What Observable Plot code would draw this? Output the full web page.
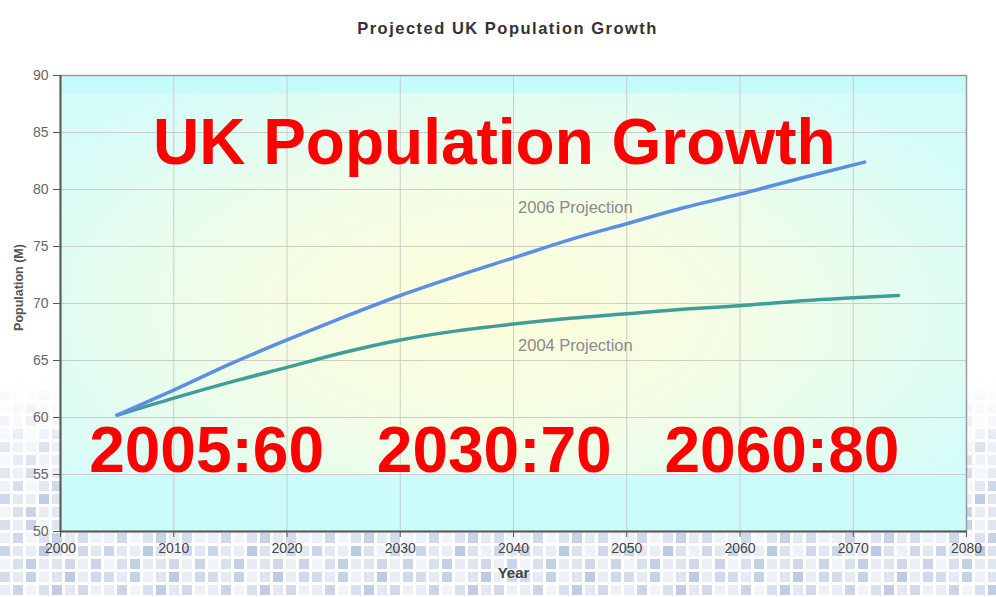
<!DOCTYPE html>
<html><head><meta charset="utf-8">
<script src="https://cdn.jsdelivr.net/npm/d3@7"></script>
<script src="https://cdn.jsdelivr.net/npm/@observablehq/plot@0.6"></script>
<style>body{margin:0;background:#fff;} #chart svg{display:block;}</style>
</head><body><div id="chart"></div>
<script>
const title = "Projected UK Population Growth";
const xLabel = "Year";
const yLabel = "Population (M)";
const xTicks = [2000, 2010, 2020, 2030, 2040, 2050, 2060, 2070, 2080];
const yTicks = [50, 55, 60, 65, 70, 75, 80, 85, 90];

const years2006 = [2005, 2010, 2015, 2020, 2025, 2030, 2035, 2040, 2045, 2050, 2055, 2060, 2065, 2071];
const pop2006   = [60.2, 62.4, 64.7, 66.8, 68.8, 70.7, 72.4, 74.0, 75.6, 77.0, 78.4, 79.6, 80.9, 82.4];
const years2004 = [2005, 2010, 2015, 2020, 2025, 2030, 2035, 2040, 2045, 2050, 2055, 2060, 2065, 2070, 2074];
const pop2004   = [60.2, 61.7, 63.1, 64.4, 65.7, 66.8, 67.6, 68.2, 68.7, 69.1, 69.5, 69.8, 70.2, 70.5, 70.7];

const seriesNames = ["2006 Projection", "2004 Projection"];
const seriesColors = ["#5b8fe6", "#3f9e97"];
const seriesLabelYears = [2040.4, 2040.4];
const seriesLabelValues = [78.4, 66.3];

const overlayLabels = ["UK Population Growth", "2005:60", "2030:70", "2060:80"];
const overlayYears  = [2038.3, 2012.9, 2038.3, 2063.7];
const overlayValues = [84.0, 57.0, 57.0, 57.0];

const s2006 = years2006.map((y, i) => ({year: y, pop: pop2006[i], series: seriesNames[0]}));
const s2004 = years2004.map((y, i) => ({year: y, pop: pop2004[i], series: seriesNames[1]}));
const seriesLabels = seriesNames.map((n, i) => ({name: n, year: seriesLabelYears[i], pop: seriesLabelValues[i]}));
const overlays = overlayLabels.map((t, i) => ({text: t, year: overlayYears[i], pop: overlayValues[i]}));

const shades = ["#d3dcec","#e4eaf4","#c3d0e6","#edf1f7","#dbe3f0","#b9c9e2","#e8edf5","#cfd9ea",
                "#e9eef6","#c9d5e9","#f1f4f9","#d7e0ee","#bfcde5","#e2e8f3","#d0daeb","#eef2f8",
                "#c6d2e7","#dfe6f1","#e6ebf4","#b5c6e0","#d9e1ef","#ecf0f7","#cbd6e9","#e0e7f2",
                "#f0f3f9","#d5deed","#c1cee5","#e5eaf4","#dde4f0","#ccd7ea","#eaeef6","#c7d3e8"];

function decor() {
  const ns = "http://www.w3.org/2000/svg";
  const g = document.createElementNS(ns, "g");
  let cells = "";
  shades.forEach((c, i) => {
    const cx = (i % 8) * 13, cy = Math.floor(i / 8) * 13;
    cells += `<rect x="${cx}" y="${cy}" width="10" height="10" fill="${c}"/>`;
  });
  g.innerHTML = `<defs>
    <radialGradient id="bg" cx="0.48" cy="0.52" r="0.62">
      <stop offset="0" stop-color="#fdfed9"/>
      <stop offset="0.45" stop-color="#f3fde6"/>
      <stop offset="1" stop-color="#d4fcfa"/>
    </radialGradient>
    <linearGradient id="bands" x1="0" y1="0" x2="0" y2="1">
      <stop offset="0" stop-color="#c6fbfb" stop-opacity="1"/>
      <stop offset="0.038" stop-color="#c6fbfb" stop-opacity="1"/>
      <stop offset="0.038" stop-color="#c6fbfb" stop-opacity="0"/>
      <stop offset="0.875" stop-color="#c9fcf9" stop-opacity="0"/>
      <stop offset="0.875" stop-color="#cbfcfa" stop-opacity="1"/>
      <stop offset="1" stop-color="#cbfcfa" stop-opacity="1"/>
    </linearGradient>
    <pattern id="mosaic" x="0" y="0" width="104" height="52" patternUnits="userSpaceOnUse">${cells}</pattern>
    <linearGradient id="fadeg" x1="0" y1="0" x2="0" y2="1">
      <stop offset="0" stop-color="#fff" stop-opacity="0"/>
      <stop offset="0.55" stop-color="#fff" stop-opacity="0.85"/>
      <stop offset="1" stop-color="#fff" stop-opacity="1"/>
    </linearGradient>
    <mask id="fade"><rect x="0" y="380" width="996" height="217" fill="url(#fadeg)"/></mask>
  </defs>
  <rect x="0" y="380" width="996" height="217" fill="url(#mosaic)" mask="url(#fade)"/>`;
  return g;
}

const chart = Plot.plot({
  width: 996,
  height: 597,
  marginLeft: 60,
  marginRight: 30,
  marginTop: 75,
  marginBottom: 66,
  style: {fontFamily: "'Liberation Sans', Arial, sans-serif", background: "#fff"},
  x: {domain: [2000, 2080], label: null},
  y: {domain: [50, 90], label: null},
  marks: [
    decor,
    Plot.frame({fill: "url(#bg)"}),
    Plot.frame({fill: "url(#bands)"}),
    Plot.gridX({ticks: xTicks, stroke: "#c8c8c8", strokeOpacity: 0.9}),
    Plot.gridY({ticks: yTicks, stroke: "#c8c8c8", strokeOpacity: 0.9}),
    Plot.frame({stroke: "#9a9a9a", strokeWidth: 1.5}),
    Plot.ruleX([2000], {stroke: "#5a5a5a", strokeWidth: 2}),
    Plot.ruleY([50], {stroke: "#5a5a5a", strokeWidth: 2}),
    Plot.axisX({ticks: xTicks, tickFormat: d => String(d), tickSize: 6, tickPadding: 6, fontSize: 14, fill: "#444", stroke: "#555", label: null}),
    Plot.axisY({ticks: yTicks, tickSize: 7, tickPadding: 5, fontSize: 14, fill: "#666", stroke: "#555", label: null}),
    Plot.line(s2004, {x: "year", y: "pop", stroke: seriesColors[1], strokeWidth: 3.5, curve: "monotone-x"}),
    Plot.line(s2006, {x: "year", y: "pop", stroke: seriesColors[0], strokeWidth: 3.5, curve: "monotone-x"}),
    Plot.text(seriesLabels, {x: "year", y: "pop", text: "name", textAnchor: "start", fontSize: 16.5, fill: "#8a8a8a"}),
    Plot.text([title], {frameAnchor: "top", dy: -53, dx: -6, fontSize: 16.5, fontWeight: "bold", fill: "#333"}),
    Plot.text([xLabel], {frameAnchor: "bottom", dy: 46, fontSize: 15, fontWeight: "bold", fill: "#444"}),
    Plot.text([yLabel], {frameAnchor: "left", textAnchor: "middle", dx: -42, dy: -16, rotate: -90, fontSize: 12.5, fontWeight: "bold", fill: "#555"}),
    Plot.text(overlays, {x: "year", y: "pop", text: "text", fontSize: 64, fontWeight: "bold", fill: "#ff0000"})
  ]
});
d3.select(chart).selectAll("text").filter(function() { return this.textContent === title; }).attr("letter-spacing", "1.5px");
document.getElementById("chart").appendChild(chart);
</script>
</body></html>
